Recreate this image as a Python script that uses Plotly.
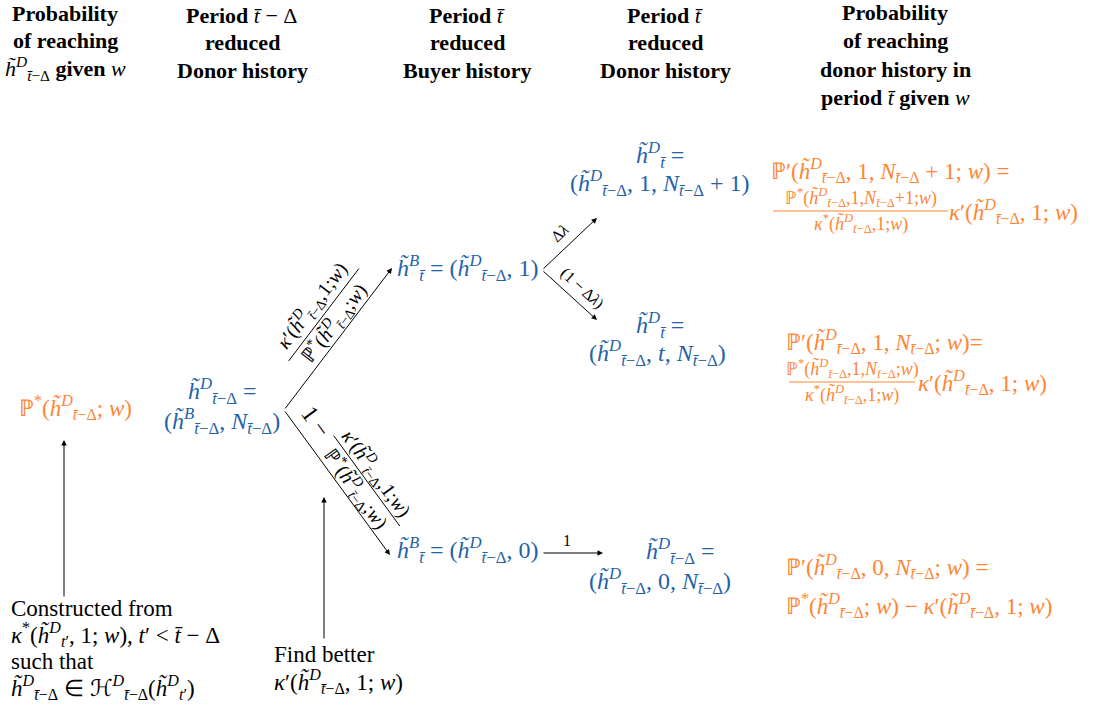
import math
import plotly.graph_objects as go

FONT = "Liberation Serif"
BLUE = "#2462a8"
ORANGE = "#ff8533"
BLACK = "#000000"


# small markup helpers for the math
def sub(s):
    return f"<sub>{s}</sub>"


def sup(s):
    return f"<sup>{s}</sup>"


TD = "<i>t̄</i>−Δ"
W = "<i>w</i>"
hD = "<i>h̃</i>" + sup("<i>D</i>") + sub(TD)
hB_TD = "<i>h̃</i>" + sup("<i>B</i>") + sub(TD)
hB_T = "<i>h̃</i>" + sup("<i>B</i>") + sub("<i>t̄</i>")
hD_T = "<i>h̃</i>" + sup("<i>D</i>") + sub("<i>t̄</i>")
hD_tp = "<i>h̃</i>" + sup("<i>D</i>") + sub("<i>t</i>′")
N_TD = "<i>N</i>" + sub(TD)
PSTAR = "ℙ" + sup("*")
KSTAR = "<i>κ</i>" + sup("*")
KPRIME = "<i>κ</i>′"

# column headers
headers = [
    ["<b>Probability</b>", "<b>of reaching</b>", f"{hD} <b>given</b> {W}"],
    ["<b>Period</b> <i>t̄</i> − Δ", "<b>reduced</b>", "<b>Donor history</b>"],
    ["<b>Period</b> <i>t̄</i>", "<b>reduced</b>", "<b>Buyer history</b>"],
    ["<b>Period</b> <i>t̄</i>", "<b>reduced</b>", "<b>Donor history</b>"],
    ["<b>Probability</b>", "<b>of reaching</b>", "<b>donor history in</b>",
     f"<b>period</b> <i>t̄</i> <b>given</b> {W}"],
]

# tree nodes (blue histories)
nodes = {
    "root": [f"{hD} =", f"({hB_TD}, {N_TD})"],
    "buy1": [f"{hB_T} = ({hD}, 1)"],
    "buy0": [f"{hB_T} = ({hD}, 0)"],
    "don_up": [f"{hD_T} =", f"({hD}, 1, {N_TD} + 1)"],
    "don_mid": [f"{hD_T} =", f"({hD}, <i>t</i>, {N_TD})"],
    "don_low": [f"{hD} =", f"({hD}, 0, {N_TD})"],
}

# transition probabilities on the edges
frac_num = f"{KPRIME}({hD},1;{W})"
frac_den = f"{PSTAR}({hD};{W})"
edge_labels = {
    "root-buy1": ("", frac_num, frac_den),
    "root-buy0": ("1 −", frac_num, frac_den),
    "buy1-don_up": "Δ<i>λ</i>",
    "buy1-don_mid": "(1 − Δ<i>λ</i>)",
    "buy0-don_low": "1",
}

# probabilities of reaching (orange)
root_prob = f"{PSTAR}({hD}; {W})"
reach = {
    "don_up": (f"ℙ′({hD}, 1, {N_TD} + 1; {W}) =",
               f"{PSTAR}({hD},1,{N_TD}+1;{W})",
               f"{KSTAR}({hD},1;{W})",
               f"{KPRIME}({hD}, 1; {W})"),
    "don_mid": (f"ℙ′({hD}, 1, {N_TD}; {W})=",
                f"{PSTAR}({hD},1,{N_TD};{W})",
                f"{KSTAR}({hD},1;{W})",
                f"{KPRIME}({hD}, 1; {W})"),
    "don_low": (f"ℙ′({hD}, 0, {N_TD}; {W}) =",
                f"{PSTAR}({hD}; {W}) − {KPRIME}({hD}, 1; {W})"),
}

notes = {
    "left": ["Constructed from", f"{KSTAR}({hD_tp}, 1; {W}), <i>t</i>′ < <i>t̄</i> − Δ",
             "such that", f"{hD} ∈ ℋ{sup('<i>D</i>')}{sub(TD)}({hD_tp})"],
    "mid": ["Find better", f"{KPRIME}({hD}, 1; {W})"],
}

# ---- layout (page pixel coordinates, y grows downward) ----
fig = go.Figure()


def label(x, y, text, size=23, color=BLACK, angle=0, xanchor="center"):
    fig.add_annotation(x=x, y=y, xref="x", yref="y", text=text,
                       showarrow=False,
                       font=dict(family=FONT, size=size, color=color),
                       textangle=angle, xanchor=xanchor, yanchor="middle",
                       borderpad=0)


def arrow(p, q):
    fig.add_annotation(x=q[0], y=q[1], ax=p[0], ay=p[1], xref="x", yref="y",
                       axref="x", ayref="y", text="", showarrow=True,
                       arrowhead=2, arrowsize=1.1, arrowwidth=1,
                       arrowcolor=BLACK, standoff=0, startstandoff=0)


def seg(p, q, color=BLACK):
    fig.add_shape(type="line", x0=p[0], y0=p[1], x1=q[0], y1=q[1],
                  xref="x", yref="y", line=dict(color=color, width=1))


def on_edge(p, q, t, off):
    dx, dy = q[0] - p[0], q[1] - p[1]
    L = math.hypot(dx, dy)
    ux, uy = dx / L, dy / L
    nx, ny = uy, -ux
    return (p[0] + dx * t + nx * off, p[1] + dy * t + ny * off,
            math.degrees(math.atan2(dy, dx)), ux, uy, L)


# headers
header_x = [65, 242, 467, 665, 895]
header_y0 = [13, 15, 15, 15, 12]
for hx, hy, lines in zip(header_x, header_y0, headers):
    step = 28.5 if len(lines) == 4 else 27.5
    for i, ln in enumerate(lines):
        label(hx, hy + i * step, ln, size=22)

# blue nodes
NB = 24
label(222, 391, nodes["root"][0], size=NB, color=BLUE)
label(222, 421, nodes["root"][1], size=NB, color=BLUE)
label(540, 268, nodes["buy1"][0], size=NB, color=BLUE, xanchor="right")
label(540, 550, nodes["buy0"][0], size=NB, color=BLUE, xanchor="right")
label(660, 155, nodes["don_up"][0], size=NB, color=BLUE)
label(660, 183, nodes["don_up"][1], size=NB, color=BLUE)
label(660, 325, nodes["don_mid"][0], size=NB, color=BLUE)
label(657, 353, nodes["don_mid"][1], size=NB, color=BLUE)
label(680, 551, nodes["don_low"][0], size=NB, color=BLUE)
label(660, 581, nodes["don_low"][1], size=NB, color=BLUE)

# orange probabilities
label(75, 407, root_prob, color=ORANGE)

frac_pos = {"don_up": (770, 170, 773, 948, 211, 948),
            "don_mid": (785, 341, 789, 915, 382, 917)}
for key, (x0, y0, bx0, bx1, by, kx) in frac_pos.items():
    head, num, den, tail = reach[key]
    label(x0, y0, head, color=ORANGE, xanchor="left")
    label((bx0 + bx1) / 2, by - 14, num, size=18, color=ORANGE)
    label((bx0 + bx1) / 2, by + 12, den, size=18, color=ORANGE)
    seg((bx0, by), (bx1, by), ORANGE)
    label(kx, by, tail, color=ORANGE, xanchor="left")
label(785, 566, reach["don_low"][0], color=ORANGE, xanchor="left")
label(785, 605, reach["don_low"][1], color=ORANGE, xanchor="left")

# edges
pts = {"root": (284, 410), "buy1_in": (392, 268), "buy0_in": (390, 555),
       "buy1": (542, 270), "up_in": (597, 218), "mid_in": (597, 320),
       "buy0": (542, 553), "low_in": (603, 553)}
arrow(pts["root"], pts["buy1_in"])
arrow(pts["root"], pts["buy0_in"])
arrow(pts["buy1"], pts["up_in"])
arrow(pts["buy1"], pts["mid_in"])
arrow(pts["buy0"], pts["low_in"])


def edge_fraction(p, q, t, offs, bar_len, parts, size=20):
    prefix, num, den = parts
    x, y, ang, ux, uy, L = on_edge(p, q, t, offs[1])
    seg((x - ux * bar_len / 2, y - uy * bar_len / 2),
        (x + ux * bar_len / 2, y + uy * bar_len / 2))
    nx_, ny_, _, _, _, _ = on_edge(p, q, t, offs[0])
    label(nx_, ny_, num, size=size, angle=ang)
    dx_, dy_, _, _, _, _ = on_edge(p, q, t, offs[2])
    label(dx_, dy_, den, size=size, angle=ang)


edge_fraction(pts["root"], pts["buy1_in"], 0.56, (41, 26, 12), 116,
              edge_labels["root-buy1"])
edge_fraction(pts["root"], pts["buy0_in"], 0.59, (37, 25, 11), 112,
              edge_labels["root-buy0"])
x, y, ang, *_ = on_edge(pts["root"], pts["buy0_in"], 0.16, 19)
label(x, y, edge_labels["root-buy0"][0], size=24, angle=ang)

x, y, ang, *_ = on_edge(pts["buy1"], pts["up_in"], 0.5, 15)
label(x, y, edge_labels["buy1-don_up"], size=16, angle=ang)
x, y, ang, *_ = on_edge(pts["buy1"], pts["mid_in"], 0.56, 13)
label(x, y, edge_labels["buy1-don_mid"], size=16, angle=ang)
label(567, 540, edge_labels["buy0-don_low"], size=16)

# pointers to the notes
arrow((64, 598), (64, 440))
arrow((324, 640), (324, 497))
for i, ln in enumerate(notes["left"]):
    label(10, 608 + i * 26.5, ln, xanchor="left")
for i, ln in enumerate(notes["mid"]):
    label(273, 654 + i * 27, ln, xanchor="left")

fig.update_xaxes(range=[0, 1097], visible=False, fixedrange=True)
fig.update_yaxes(range=[717, 0], visible=False, fixedrange=True)
fig.update_layout(width=1097, height=717, margin=dict(l=0, r=0, t=0, b=0),
                  plot_bgcolor="white", paper_bgcolor="white",
                  showlegend=False)

fig.write_html("out.html", config={"displayModeBar": False},
               post_script="document.body.style.margin = '0';")
